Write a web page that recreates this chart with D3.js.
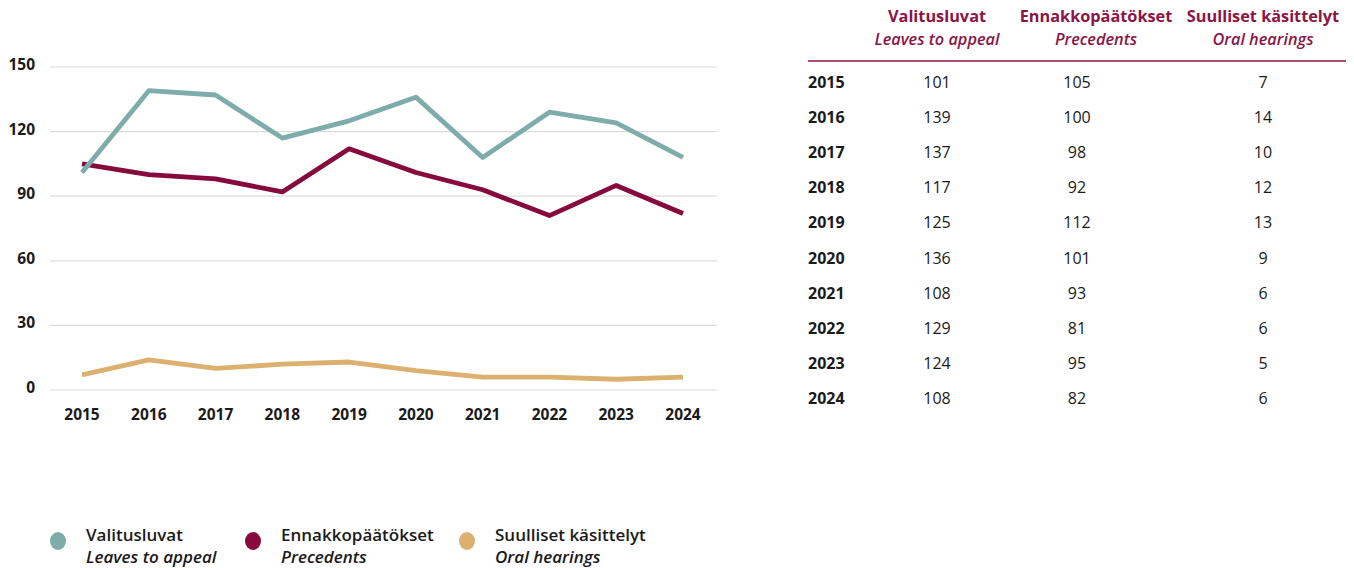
<!DOCTYPE html>
<html>
<head>
<meta charset="utf-8">
<script src="https://cdn.jsdelivr.net/npm/d3@7"></script>
<style>
  body { margin: 0; background: #fff; font-family: "Open Sans", Lato, sans-serif; }
  svg { display: block; }
</style>
</head>
<body>
<div id="chart"></div>
<script>
'use strict';

var years = [2015, 2016, 2017, 2018, 2019, 2020, 2021, 2022, 2023, 2024];
var leaves = [101, 139, 137, 117, 125, 136, 108, 129, 124, 108];
var precedents = [105, 100, 98, 92, 112, 101, 93, 81, 95, 82];
var hearings = [7, 14, 10, 12, 13, 9, 6, 6, 5, 6];
var yTicks = [0, 30, 60, 90, 120, 150];

var seriesNames = ["Valitusluvat", "Ennakkopäätökset", "Suulliset käsittelyt"];
var seriesNamesEn = ["Leaves to appeal", "Precedents", "Oral hearings"];
var colors = ["#7eacaa", "#860b3c", "#dcb06f"];
var headColor = "#8a1645";

var series = [leaves, precedents, hearings];

var W = 1354, H = 568;
var svg = d3.select("#chart").append("svg")
    .attr("width", W)
    .attr("height", H);

// line chart
var x = d3.scalePoint().domain(years).range([82, 683]);
var y = d3.scaleLinear().domain([0, 150]).range([390, 67]);

var grid = svg.append("g");
grid.selectAll("line")
    .data(yTicks)
  .enter().append("line")
    .attr("x1", 50)
    .attr("x2", 717)
    .attr("y1", function(d) { return y(d); })
    .attr("y2", function(d) { return y(d); })
    .attr("stroke", "#dcdcdc")
    .attr("stroke-width", 1.2);

grid.selectAll("text")
    .data(yTicks)
  .enter().append("text")
    .attr("x", 35)
    .attr("y", function(d) { return y(d); })
    .attr("dy", 3)
    .attr("text-anchor", "end")
    .attr("font-size", 15.5)
    .attr("font-weight", "bold")
    .attr("fill", "#1a1a1a")
    .text(function(d) { return d; });

svg.append("g").selectAll("text")
    .data(years)
  .enter().append("text")
    .attr("x", function(d) { return x(d); })
    .attr("y", 420)
    .attr("text-anchor", "middle")
    .attr("font-size", 15.5)
    .attr("font-weight", "bold")
    .attr("fill", "#1a1a1a")
    .text(String);

var line = d3.line()
    .x(function(d, i) { return x(years[i]); })
    .y(function(d) { return y(d); });

// oral hearings first, then precedents, then leaves on top
svg.append("g").selectAll("path")
    .data([2, 1, 0])
  .enter().append("path")
    .attr("d", function(k) { return line(series[k]); })
    .attr("fill", "none")
    .attr("stroke", function(k) { return colors[k]; })
    .attr("stroke-width", 4.8)
    .attr("stroke-linejoin", "round");

// legend
var legendX = [58, 253, 467];
var legend = svg.append("g").selectAll("g")
    .data(seriesNames)
  .enter().append("g")
    .attr("transform", function(d, i) { return "translate(" + legendX[i] + ",541)"; });
legend.append("ellipse")
    .attr("rx", 8)
    .attr("ry", 9)
    .attr("fill", function(d, i) { return colors[i]; });
legend.append("text")
    .attr("x", 28)
    .attr("y", 0)
    .attr("font-size", 17)
    .attr("font-weight", 600)
    .attr("fill", "#1a1a1a")
    .text(String);
legend.append("text")
    .attr("x", 28)
    .attr("y", 22)
    .attr("font-size", 17)
    .attr("font-weight", 600)
    .attr("font-style", "italic")
    .attr("fill", "#1a1a1a")
    .text(function(d, i) { return seriesNamesEn[i]; });

// table
var colX = [937, 1077, 1263];
var headX = [937, 1096, 1263];
var rowY = d3.scalePoint().domain(years).range([88, 404]);

var head = svg.append("g").selectAll("g")
    .data(seriesNames)
  .enter().append("g")
    .attr("transform", function(d, i) { return "translate(" + headX[i] + ",0)"; });
head.append("text")
    .attr("y", 22)
    .attr("text-anchor", "middle")
    .attr("font-size", 16.3)
    .attr("font-weight", "bold")
    .attr("fill", headColor)
    .text(String);
head.append("text")
    .attr("y", 45)
    .attr("text-anchor", "middle")
    .attr("font-size", 16.3)
    .attr("font-weight", 600)
    .attr("font-style", "italic")
    .attr("fill", headColor)
    .text(function(d, i) { return seriesNamesEn[i]; });

svg.append("line")
    .attr("x1", 808)
    .attr("x2", 1346)
    .attr("y1", 61)
    .attr("y2", 61)
    .attr("stroke", headColor)
    .attr("stroke-width", 1.5);

var rows = svg.append("g").selectAll("g")
    .data(years)
  .enter().append("g")
    .attr("transform", function(d) { return "translate(0," + rowY(d) + ")"; });
rows.append("text")
    .attr("x", 808)
    .attr("font-size", 16)
    .attr("font-weight", "bold")
    .attr("fill", "#1a1a1a")
    .text(String);
rows.selectAll("text.val")
    .data(function(d, i) { return series.map(function(s) { return s[i]; }); })
  .enter().append("text")
    .attr("class", "val")
    .attr("x", function(d, k) { return colX[k]; })
    .attr("text-anchor", "middle")
    .attr("font-size", 16)
    .attr("fill", "#1a1a1a")
    .text(String);
</script>
</body>
</html>
